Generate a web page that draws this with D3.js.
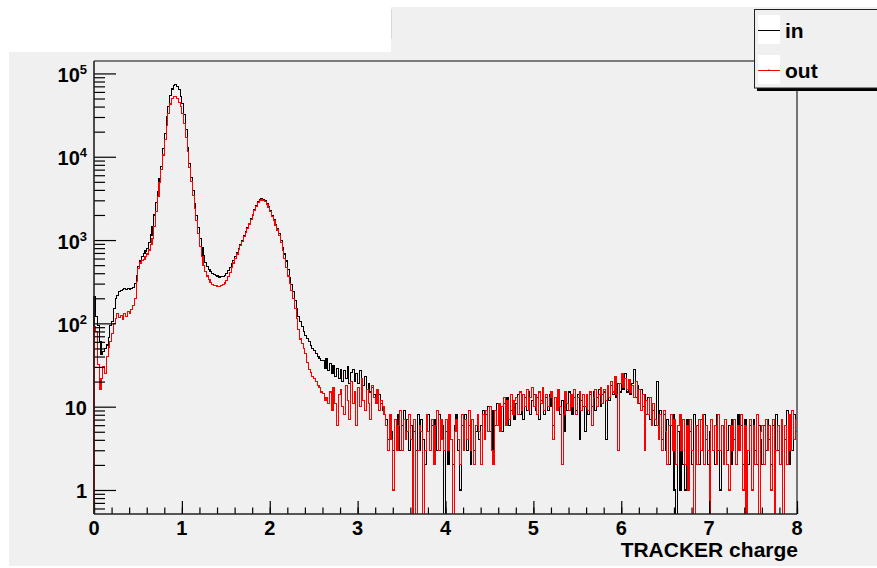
<!DOCTYPE html>
<html>
<head>
<meta charset="utf-8">
<script src="https://cdn.jsdelivr.net/npm/d3@7"></script>
<style>
  html, body { margin: 0; padding: 0; background: #ffffff; }
  svg { display: block; }
  text { font-family: "Liberation Sans", Arial, Helvetica, sans-serif; font-weight: bold; fill: #000; }
</style>
</head>
<body>
<svg id="chart" width="877" height="568"></svg>
<script>
// Histogram binning: 400 bins of width 0.02 covering [0, 8]
const binWidth = 0.02;

// "in" sample counts per bin (black)
const inCounts = [
  210,120,95,60,42,46,50,55,68,95,
  105,150,200,215,240,250,255,262,258,265,
  255,262,270,300,370,480,560,640,690,740,
  800,930,1150,1450,2000,2800,3800,5500,7600,12500,
  19000,30000,40000,54000,65000,72000,74500,70000,64000,53000,
  44000,32000,21000,13000,8200,5700,3900,2750,1950,1400,
  1050,810,650,540,480,440,415,395,385,375,
  370,360,365,368,380,400,430,470,520,575,
  640,700,790,880,1000,1120,1260,1400,1580,1800,
  2050,2300,2600,2900,3100,3150,3100,2950,2750,2500,
  2250,1980,1750,1550,1380,1200,1000,820,680,560,
  440,350,290,240,190,150,120,105,92,80,
  72,66,60,54,50,47,44,40,38,36,
  36,29,38,27,33,25,31,23,29,22,
  28,20,27,22,30,19,26,28,20,25,
  19,27,21,18,23,16,19,15,17,14,
  13,12,14,11,9,8,7,4,8,5,
  3,7,4,8,3,6,9,4,7,3,
  6,0,5,3,8,3,7,4,2,6,
  8,3,6,4,7,3,8,4,6,0,
  5,2,7,4,2,6,8,3,1,6,
  4,8,3,6,2,7,3,5,8,4,
  6,9,4,8,10,5,3,9,6,11,
  7,10,5,11,8,13,6,9,12,7,
  11,14,8,12,7,13,9,15,8,12,
  14,9,13,7,12,15,8,13,9,14,
  10,6,13,9,14,8,12,5,13,9,
  15,10,8,13,9,14,4,12,10,5,
  13,8,14,10,15,9,13,16,10,14,
  15,4,17,12,18,14,20,13,19,15,
  22,16,25,15,20,14,19,28,13,18,
  11,16,10,14,8,13,7,11,9,6,
  20,5,9,4,8,3,7,2,6,8,
  1,0,5,1,6,2,1,7,3,5,
  2,8,3,6,2,7,3,8,4,2,
  5,7,3,2,8,3,1,6,2,7,
  3,6,2,7,4,2,8,3,6,2,
  7,3,2,6,1,7,3,2,6,4,
  2,6,3,7,4,2,6,3,8,3,
  2,6,0,4,9,2,7,3,8,5
];

// "out" sample counts per bin (red)
const outCounts = [
  92,80,32,16,22,30,25,40,52,60,
  75,100,115,130,118,125,112,130,122,138,
  130,145,165,200,320,450,530,565,590,630,
  680,760,880,1050,1450,2200,3300,4900,7000,10500,
  16000,24000,33000,43000,50000,53000,53500,50000,45000,40000,
  33000,25000,17000,11500,7500,5000,3400,2400,1700,1200,
  830,640,500,420,370,335,310,295,288,285,
  280,278,285,290,305,330,365,410,470,530,
  600,680,770,860,970,1100,1240,1380,1560,1770,
  2000,2250,2550,2800,3000,3080,3020,2880,2700,2450,
  2200,1930,1700,1500,1320,1130,930,750,600,470,
  370,300,250,200,150,115,85,65,57,50,
  44,34,28,26,23,22,20,18,17,15,
  14.5,12,13,11,15,9,17,11,6,14,
  16,10,8,18,12,7,20,11,15,6,
  17,10,22,12,9,16,11,7,18,13,
  11,16,9,12,10,8,6,3,8,4,
  1,7,3,6,9,3,7,4,5,8,
  4,0,7,0,3,6,5,0,3,8,
  5,3,7,2,6,9,3,7,4,3,
  7,3,8,4,0,5,7,4,2,8,
  3,7,4,9,3,7,2,6,8,5,
  2,8,4,9,5,10,3,2,9,6,
  11,5,10,13,6,12,7,14,8,12,
  13,8,15,9,14,10,16,9,13,17,
  10,14,8,15,11,17,9,14,10,13,
  15,4,13,9,16,10,2,8,15,11,
  9,14,10,16,8,13,15,9,14,10,
  14,9,15,6,13,16,10,14,17,11,
  16,12,18,13,20,15,23,14,3,19,
  25,17,22,16,21,15,18,13,20,11,
  16,9,14,3,12,8,13,6,11,7,
  6,4,8,3,9,5,2,6,8,3,
  7,2,6,8,3,7,2,6,1,7,
  3,0,6,2,7,3,8,2,6,3,
  0,7,3,6,2,8,3,6,2,7,
  2,1,6,3,7,2,6,3,8,1,
  6,0,3,7,1,6,2,8,0,5,
  6,2,7,3,6,1,7,0,3,6,
  2,7,0,6,2,8,3,9,4,7
];

const seriesNames = ["in", "out"];
const seriesColors = ["#000000", "#ff0000"];

// Axis ticks and labels
const xTickValues = [0, 1, 2, 3, 4, 5, 6, 7, 8];
const xTickLabels = ["0", "1", "2", "3", "4", "5", "6", "7", "8"];
const xMinorStep = 0.2;
const yTickValues = [1, 10, 100, 1000, 10000, 100000];
const yTickBase = ["1", "10", "10", "10", "10", "10"];
const yTickExp = ["", "", "2", "3", "4", "5"];
const xTitle = "TRACKER charge";

const svg = d3.select("#chart");
const W = 877, H = 568;

// Canvas / pad backgrounds
svg.append("rect").attr("x", 0).attr("y", 0).attr("width", W).attr("height", H).attr("fill", "#ffffff");
svg.append("rect").attr("x", 9).attr("y", 52).attr("width", W - 9).attr("height", 514).attr("fill", "#f0f0f0");
svg.append("rect").attr("x", 391).attr("y", 7).attr("width", W - 391).attr("height", 46).attr("fill", "#f0f0f0");
svg.append("line").attr("x1", 391.5).attr("x2", 391.5).attr("y1", 9).attr("y2", 39)
  .attr("stroke", "#d8d8d8").attr("stroke-width", 1);

// Frame geometry
const fx0 = 94, fx1 = 797, fy0 = 61, fy1 = 514;

const x = d3.scaleLinear().domain([0, 8]).range([fx0, fx1]);
const y = d3.scaleLog().domain([0.515, 1.41e5]).range([fy1, fy0]);

// Clip region for histogram lines
svg.append("defs").append("clipPath").attr("id", "frameClip")
  .append("rect").attr("x", fx0 - 1).attr("y", fy0).attr("width", fx1 - fx0 + 1).attr("height", fy1 - fy0);

// Histogram outline as a step path along bin edges
function histPoints(counts) {
  const floor = 0.3; // empty bins fall below the frame
  const pts = [[0, floor]];
  counts.forEach((c, i) => pts.push([i * binWidth, c > 0 ? c : floor]));
  pts.push([counts.length * binWidth, counts[counts.length - 1] > 0 ? counts[counts.length - 1] : floor]);
  return pts;
}
const stepLine = d3.line()
  .x(d => x(d[0]))
  .y(d => y(d[1]))
  .curve(d3.curveStepAfter);

const plot = svg.append("g").attr("clip-path", "url(#frameClip)");
[inCounts, outCounts].forEach((counts, k) => {
  plot.append("path")
    .attr("d", stepLine(histPoints(counts)))
    .attr("fill", "none")
    .attr("stroke", seriesColors[k])
    .attr("stroke-width", 1.1)
    .attr("shape-rendering", "crispEdges");
});

// Frame: top and right borders
svg.append("line").attr("x1", fx0).attr("x2", fx1).attr("y1", fy0).attr("y2", fy0)
  .attr("stroke", "#555").attr("stroke-width", 1.6);
svg.append("line").attr("x1", fx1).attr("x2", fx1).attr("y1", fy0).attr("y2", fy1)
  .attr("stroke", "#555").attr("stroke-width", 1.6);

// Y axis (ticks pointing into the frame)
const yMinor = [];
for (let e = -1; e <= 5; e++) {
  for (let m = 2; m <= 9; m++) {
    const v = m * Math.pow(10, e);
    if (v >= y.domain()[0] && v <= y.domain()[1]) yMinor.push(v);
  }
}
const gyMinor = svg.append("g").attr("transform", `translate(${fx0},0)`)
  .call(d3.axisRight(y).tickValues(yMinor).tickSize(11).tickFormat(""));
const gyMajor = svg.append("g").attr("transform", `translate(${fx0},0)`)
  .call(d3.axisRight(y).tickValues(yTickValues).tickSize(22).tickFormat(""));
[gyMinor, gyMajor].forEach(g => {
  g.select(".domain").remove();
  g.selectAll(".tick line").attr("stroke", "#000").attr("stroke-width", 1.2);
});

// X axis (ticks pointing into the frame)
const xMinor = d3.range(0, 8 + 1e-9, xMinorStep);
const gxMinor = svg.append("g").attr("transform", `translate(0,${fy1})`)
  .call(d3.axisTop(x).tickValues(xMinor).tickSize(6.5).tickFormat(""));
const gxMajor = svg.append("g").attr("transform", `translate(0,${fy1})`)
  .call(d3.axisTop(x).tickValues(xTickValues).tickSize(13).tickFormat(""));
[gxMinor, gxMajor].forEach(g => {
  g.select(".domain").remove();
  g.selectAll(".tick line").attr("stroke", "#000").attr("stroke-width", 1.2);
});

// Axis lines
svg.append("line").attr("x1", fx0).attr("x2", fx0).attr("y1", fy0).attr("y2", fy1)
  .attr("stroke", "#222").attr("stroke-width", 1.6);
svg.append("line").attr("x1", fx0).attr("x2", fx1).attr("y1", fy1).attr("y2", fy1)
  .attr("stroke", "#222").attr("stroke-width", 1.6);

// Y tick labels with superscript exponents
yTickValues.forEach((v, i) => {
  const t = svg.append("text")
    .attr("x", 87).attr("y", y(v) + 8.5)
    .attr("text-anchor", "end")
    .style("font-size", "20px")
    .text(yTickBase[i]);
  if (yTickExp[i]) {
    t.append("tspan").attr("dy", -8).style("font-size", "13px").text(yTickExp[i]);
  }
});

// X tick labels
xTickValues.forEach((v, i) => {
  svg.append("text")
    .attr("x", x(v)).attr("y", 535)
    .attr("text-anchor", "middle")
    .style("font-size", "20px")
    .text(xTickLabels[i]);
});

// X axis title
svg.append("text")
  .attr("x", 798).attr("y", 557)
  .attr("text-anchor", "end")
  .style("font-size", "21px")
  .text(xTitle);

// Legend
const lg = svg.append("g");
lg.append("rect").attr("x", 757).attr("y", 88).attr("width", W - 757).attr("height", 3).attr("fill", "#000");
lg.append("rect").attr("x", 754.5).attr("y", 9.5).attr("width", W - 754).attr("height", 78.5)
  .attr("fill", "#f0f0f0").attr("stroke", "#222").attr("stroke-width", 1);
seriesNames.forEach((name, k) => {
  const top = 15 + k * 40;
  lg.append("rect").attr("x", 758).attr("y", top).attr("width", 22).attr("height", 29).attr("fill", "#ffffff");
  lg.append("line").attr("x1", 758).attr("x2", 780).attr("y1", top + 15.5).attr("y2", top + 15.5)
    .attr("stroke", seriesColors[k]).attr("stroke-width", 1);
  lg.append("text").attr("x", 785).attr("y", top + 23)
    .style("font-size", "21px").text(name);
});
lg.append("rect").attr("x", 768.5).attr("y", 69.5).attr("width", 1).attr("height", 1).attr("fill", "#000");
</script>
</body>
</html>
